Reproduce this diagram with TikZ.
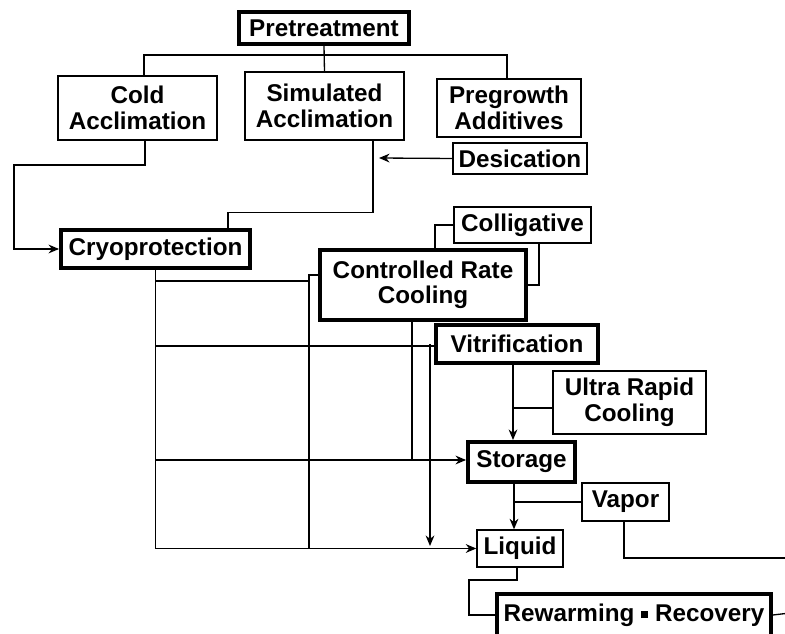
\documentclass[tikz,border=0pt]{standalone}
\usepackage{fontspec}
\setmainfont{Liberation Sans}
\usetikzlibrary{arrows.meta}

\begin{document}
\begin{tikzpicture}[
			x=0.02cm, y=-0.02cm,
			box/.style={rectangle, draw, line width=0.8pt, inner sep=0pt, align=center, font=\bfseries\fontsize{13.8}{14.5}\selectfont},
			keybox/.style={box, line width=2.2pt},
			link/.style={line width=0.75pt},
			arrow/.style={->, line width=0.75pt, >={Stealth[length=6pt, width=5pt]}}
		]
		\useasboundingbox (0,0) rectangle (785,634);
		\clip (0,0) rectangle (785,634);

		% Pretreatment
		\node[keybox, minimum width=170*0.02cm, minimum height=32*0.02cm] (pre) at (324,28) {Pretreatment};
		\node[box, minimum width=159*0.02cm, minimum height=64*0.02cm] (cold) at (137.5,108) {Cold\\Acclimation};
		\node[box, minimum width=159*0.02cm, minimum height=68*0.02cm] (sim) at (324.5,106) {Simulated\\Acclimation};
		\node[box, minimum width=144*0.02cm, minimum height=58*0.02cm] (pregrowth) at (509,108) {Pregrowth\\Additives};
		\node[box, minimum width=134*0.02cm, minimum height=31*0.02cm] (desic) at (520,158.5) {Desication};

		\coordinate (split) at (324,55);
		\coordinate (dtip) at (379,158);
		\draw[link] (pre.south) -- (sim.north);
		\draw[link] (split) -| (cold.north -| 144,0);
		\draw[link] (split) -| (pregrowth.north -| 507,0);
		\draw[arrow] (desic.west) -- (dtip);

		% Cryoprotection
		\node[keybox, minimum width=189*0.02cm, minimum height=38*0.02cm] (cryo) at (155.5,249) {Cryoprotection};

		\draw[arrow] (cold.south -| 145,0) |- (14,165) |- (cryo.west);
		\draw[link] (sim.south -| 373,0) -- ++(0,72) -| (cryo.north -| 228,0);

		% Cooling
		\node[keybox, minimum width=206*0.02cm, minimum height=70*0.02cm] (crc) at (423,285) {Controlled Rate\\Cooling};
		\node[box, minimum width=137*0.02cm, minimum height=36*0.02cm] (collig) at (522.5,225) {Colligative};
		\node[keybox, minimum width=162*0.02cm, minimum height=38*0.02cm] (vitri) at (517,344) {Vitrification};
		\node[box, minimum width=153*0.02cm, minimum height=63*0.02cm] (urc) at (629.5,402.5) {Ultra Rapid\\Cooling};

		\draw[link] (collig.west) -| (crc.north -| 435,0);
		\draw[link] (collig.south -| 539,0) |- (crc.east);
		\draw[arrow] (vitri.south -| 513,0) -- (513,440);
		\draw[link] (urc.west |- 0,408) -- (513,408);

		% Storage
		\node[keybox, minimum width=107*0.02cm, minimum height=40*0.02cm] (storage) at (521.5,462) {Storage};
		\node[box, minimum width=87*0.02cm, minimum height=38*0.02cm] (vapor) at (625.5,502) {Vapor};
		\node[box, minimum width=86*0.02cm, minimum height=37*0.02cm] (liquid) at (520,548.5) {Liquid};

		\coordinate (vtip) at (430,546);
		\coordinate (edgeA) at (790,558);
		\draw[arrow] (storage.south -| 514,0) -- (liquid.north -| 514,0);
		\draw[link] (vapor.west) -- (vapor.west -| 514,0);
		\draw[link] (vapor.south -| 624,0) |- (edgeA);

		% Cryoprotection trunk
		\draw[arrow] (cryo.south) |- (liquid.west);
		\draw[link] (cryo.south |- 0,281) -- (309,281);
		\draw[link] (cryo.south |- 0,346) -- (vitri.west |- 0,346);
		\draw[arrow] (cryo.south |- 0,460) -- (storage.west |- 0,460);
		\draw[link] (crc.west |- 0,275) -| (liquid.west -| 309,0);
		\draw[link] (crc.south -| 412,0) -- (412,460);
		\draw[arrow] (vitri.west -| 430,346) -- (vtip);

		% Rewarming
		\node[keybox, minimum width=274*0.02cm, minimum height=42*0.02cm] (rew) at (634,615) {Rewarming \raisebox{0.25ex}{\rule{0.3em}{0.3em}} Recovery};

		\coordinate (edgeB) at (790,613);
		\draw[link] (liquid.south -| 517,0) |- (469,580) |- (rew.west);
		\draw[link] (rew.east) -- (edgeB);

	\end{tikzpicture}
\end{document}
